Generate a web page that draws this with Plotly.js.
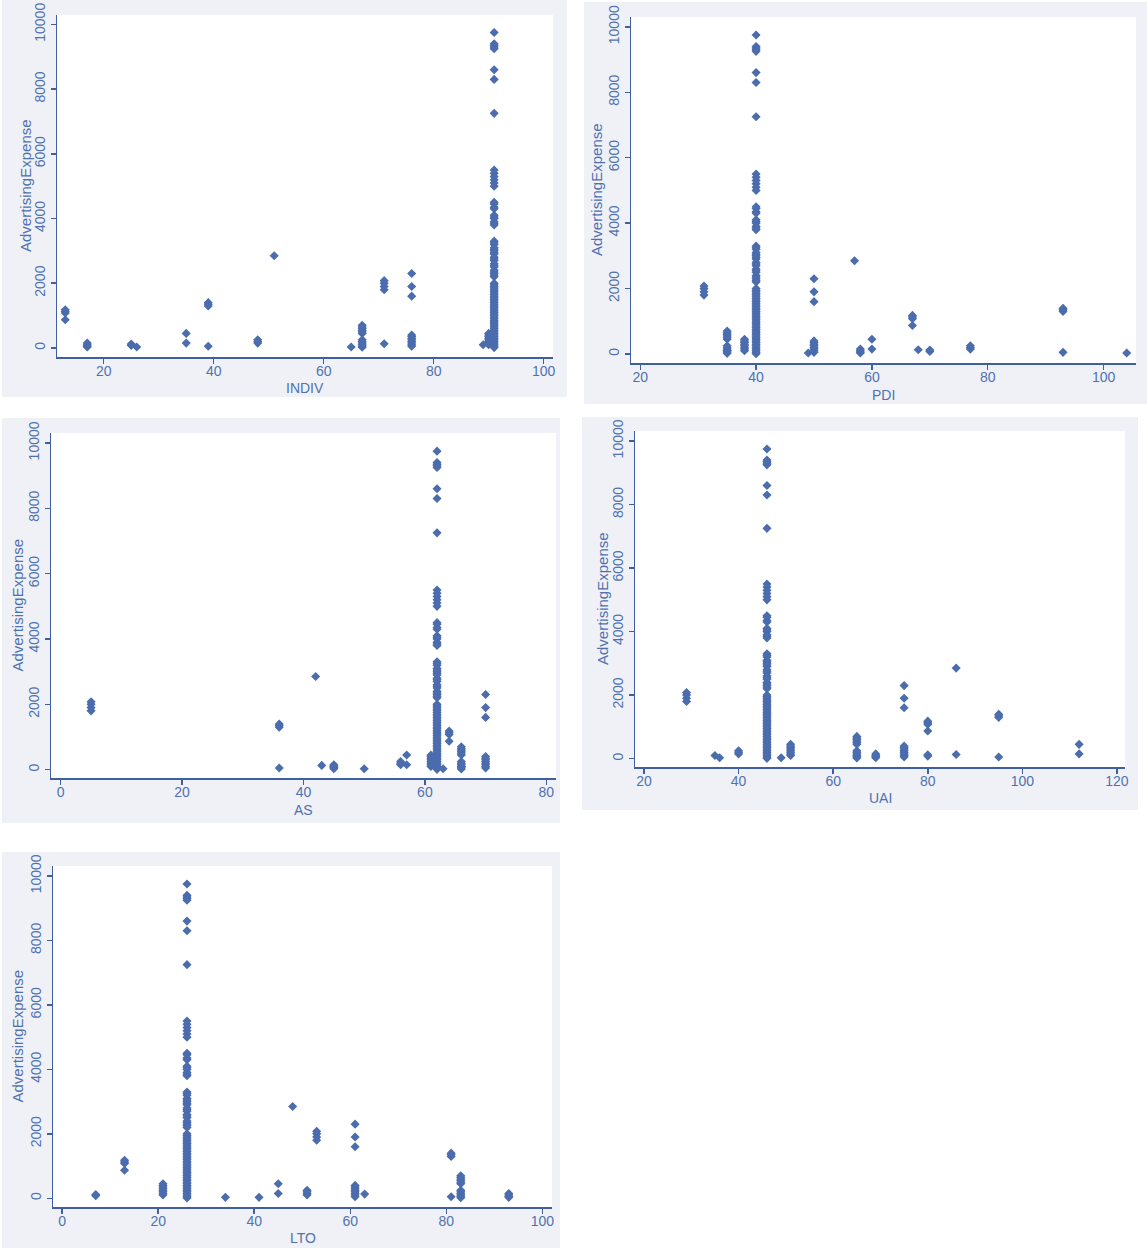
<!DOCTYPE html>
<html>
<head>
<meta charset="utf-8">
<script src="https://cdn.plot.ly/plotly-3.0.1.min.js"></script>
<style>html,body{margin:0;padding:0;background:#fff;}#chart{width:1147px;height:1249px;}</style>
</head>
<body>
<div id="chart"></div>
<script>
// Countries (clusters seen in the scatter plots) and their cultural-dimension scores
const countries = ['USA','Australia','UK','Germany','Italy','Sweden','France','Spain','Colombia','Taiwan','Egypt','Malaysia','Greece','Russia','India','South Africa'];
const INDIV = [91, 90, 89, 67, 76, 71, 71, 51, 13, 17, 25, 26, 35, 39, 48, 65];
const PDI   = [40, 38, 35, 35, 50, 31, 68, 57, 67, 58, 70, 104, 60, 93, 77, 49];
const AS    = [62, 61, 66, 66, 70, 5, 43, 42, 64, 45, 45, 50, 57, 36, 56, 63];
const UAI   = [46, 51, 35, 65, 75, 29, 86, 86, 80, 69, 80, 36, 112, 95, 40, 49];
const LTO   = [26, 21, 51, 83, 61, 53, 63, 48, 13, 93, 7, 41, 45, 81, 51, 34];

// AdvertisingExpense observations per country
const usaExpense = [9750, 9400, 9350, 9300, 9250, 8600, 8300, 7250, 5500, 5400, 5300, 5200, 5100, 5000,
  4500, 4450, 4350, 4300, 4100, 4050, 4000, 3900, 3850, 3800, 3300, 3250, 3200, 3100, 3050, 3000, 2950,
  2900, 2800, 2750, 2700, 2600, 2550, 2500, 2400, 2350, 2300, 2250, 2200, 2000, 1950, 1900, 1850, 1800,
  1750, 1700, 1650, 1600, 1550, 1500, 1450, 1400, 1350, 1300, 1250, 1200, 1150, 1100, 1050, 1000, 950,
  900, 850, 800, 750, 700, 650, 600, 550, 500, 450, 400, 350, 300, 250, 200, 150, 100, 50, 10];
const australiaExpense = [100, 150, 200, 250, 300, 350, 400, 450];
const ukExpense = [100];
const germanyExpense = [20, 60, 100, 150, 200, 250, 450, 500, 550, 600, 650, 700];
const italyExpense = [50, 100, 150, 200, 250, 300, 350, 400, 1600, 1900, 2300];
const swedenExpense = [1800, 1900, 2000, 2080];
const franceExpense = [130];
const spainExpense = [2850];
const colombiaExpense = [870, 1080, 1130, 1180];
const taiwanExpense = [30, 60, 100, 150];
const egyptExpense = [80, 120];
const malaysiaExpense = [30];
const greeceExpense = [150, 450];
const russiaExpense = [50, 1300, 1350, 1400];
const indiaExpense = [150, 200, 250];
const southAfricaExpense = [30];

const expenses = [usaExpense, australiaExpense, ukExpense, germanyExpense, italyExpense, swedenExpense,
  franceExpense, spainExpense, colombiaExpense, taiwanExpense, egyptExpense, malaysiaExpense,
  greeceExpense, russiaExpense, indiaExpense, southAfricaExpense];

const dimNames = ['INDIV', 'PDI', 'AS', 'UAI', 'LTO'];
const dims = [INDIV, PDI, AS, UAI, LTO];
const yTitle = 'AdvertisingExpense';
const yTicks = [0, 2000, 4000, 6000, 8000, 10000];
const yTickLabels = ['0', '2000', '4000', '6000', '8000', '10000'];
const xTicks = [[20, 40, 60, 80, 100], [20, 40, 60, 80, 100], [0, 20, 40, 60, 80], [20, 40, 60, 80, 100, 120], [0, 20, 40, 60, 80, 100]];

// ---- presentation ----
const W = 1147, H = 1249;
const markerColor = '#4b6cad';
const lineColor = '#3f5fa0';
const textColor = '#5071b0';
const bgColor = '#eff1f7';

// plot areas in pixels [x0, x1, y0(top), y1(bottom)]
const plotPx = [[57, 553, 15, 357], [631, 1136, 17, 363], [51, 556, 433, 778], [635, 1125, 431, 767], [53, 552, 866, 1207]];
const bgPx = [[2, 567, 0, 397], [584, 1147, 2, 404], [2, 560, 418, 823], [582, 1138, 417, 810], [2, 560, 852, 1248]];
// axis-title positions in pixels: [yTitleX, xTitleY]
const titlePx = [[25, 388], [597, 395], [17, 810], [602, 798], [17, 1238]];
const xRanges = [[11.5, 101.7], [18.4, 105.6], [-1.6, 81.6], [18.1, 121.7], [-1.9, 102]];
const yRanges = [[-280, 10290], [-275, 10300], [-255, 10306], [-263, 10315], [-270, 10310]];

const traces = [];
const layout = {
  width: W, height: H,
  margin: {l: 0, r: 0, t: 0, b: 0},
  paper_bgcolor: '#ffffff', plot_bgcolor: '#ffffff',
  showlegend: false,
  font: {family: '"Liberation Sans", Arial, sans-serif', size: 14, color: textColor},
  shapes: [],
  annotations: []
};

dims.forEach((dim, i) => {
  const xs = [], ys = [];
  countries.forEach((c, k) => {
    expenses[k].forEach(v => { xs.push(dim[k]); ys.push(v); });
  });
  const sfx = i === 0 ? '' : String(i + 1);
  traces.push({
    type: 'scatter', mode: 'markers', x: xs, y: ys,
    xaxis: 'x' + sfx, yaxis: 'y' + sfx,
    marker: {symbol: 'diamond', size: 7, color: markerColor, line: {width: 0}},
    hoverinfo: 'x+y'
  });
  const p = plotPx[i], b = bgPx[i], t = titlePx[i];
  layout.shapes.push({type: 'rect', xref: 'paper', yref: 'paper', layer: 'below',
    x0: b[0] / W, x1: b[1] / W, y0: 1 - b[3] / H, y1: 1 - b[2] / H,
    fillcolor: bgColor, line: {width: 0}});
  layout.shapes.push({type: 'rect', xref: 'paper', yref: 'paper', layer: 'below',
    x0: p[0] / W, x1: p[1] / W, y0: 1 - p[3] / H, y1: 1 - p[2] / H,
    fillcolor: '#ffffff', line: {width: 0}});
  layout['xaxis' + sfx] = {
    domain: [p[0] / W, p[1] / W], anchor: 'y' + sfx, range: xRanges[i],
    tickmode: 'array', tickvals: xTicks[i], ticktext: xTicks[i].map(String),
    showline: true, linecolor: lineColor, linewidth: 1.5,
    ticks: 'outside', ticklen: 5, tickwidth: 1.5, tickcolor: lineColor,
    ticklabelstandoff: -4,
    showgrid: false, zeroline: false,
    tickfont: {size: 14, color: textColor}
  };
  layout['yaxis' + sfx] = {
    domain: [1 - p[3] / H, 1 - p[2] / H], anchor: 'x' + sfx, range: yRanges[i],
    tickmode: 'array', tickvals: yTicks, ticktext: yTickLabels, tickangle: -90,
    showline: true, linecolor: lineColor, linewidth: 1.5,
    ticks: 'outside', ticklen: 5, tickwidth: 1.5, tickcolor: lineColor,
    showgrid: false, zeroline: false,
    tickfont: {size: 14, color: textColor}
  };
  // axis titles
  layout.annotations.push({
    text: dimNames[i], xref: 'paper', yref: 'paper', showarrow: false,
    x: (p[0] + p[1]) / 2 / W, y: 1 - t[1] / H, xanchor: 'center', yanchor: 'middle',
    font: {size: 14, color: textColor}
  });
  layout.annotations.push({
    text: yTitle, xref: 'paper', yref: 'paper', showarrow: false, textangle: -90,
    x: t[0] / W, y: 1 - (p[2] + p[3]) / 2 / H, xanchor: 'center', yanchor: 'middle',
    font: {size: 15, color: textColor}
  });
});

Plotly.newPlot('chart', traces, layout, {displayModeBar: false, staticPlot: true});
</script>
</body>
</html>
